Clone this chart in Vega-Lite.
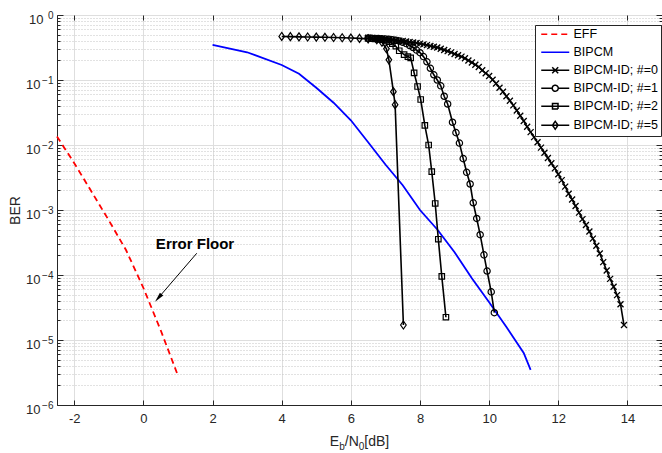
{
  "$schema": "https://vega.github.io/schema/vega-lite/v6.json",
  "width": 605,
  "height": 390,
  "autosize": "none",
  "padding": {"left": 57, "top": 15, "right": 0, "bottom": 48},
  "background": "white",
  "config": {
    "font": "Liberation Sans",
    "view": {"stroke": "#262626", "strokeWidth": 1},
    "axis": {
      "labelFont": "Liberation Sans",
      "labelFontSize": 13,
      "labelColor": "#262626",
      "titleFont": "Liberation Sans",
      "titleFontSize": 14,
      "titleFontWeight": "normal",
      "titleColor": "#262626",
      "domainColor": "#262626",
      "tickColor": "#262626",
      "gridColor": "#dedede"
    }
  },
  "datasets": {
    "curves": [
      {"series": "EFF", "x": -2.5, "ber": 0.0135},
      {"series": "EFF", "x": -2, "ber": 0.00525},
      {"series": "EFF", "x": -1.5, "ber": 0.00191},
      {"series": "EFF", "x": -1, "ber": 0.000692},
      {"series": "EFF", "x": -0.5, "ber": 0.00024},
      {"series": "EFF", "x": 0, "ber": 6.31e-5},
      {"series": "EFF", "x": 0.5, "ber": 1.41e-5},
      {"series": "EFF", "x": 1, "ber": 2.82e-6},
      {"series": "BIPCM", "x": 2, "ber": 0.347},
      {"series": "BIPCM", "x": 3, "ber": 0.267},
      {"series": "BIPCM", "x": 4, "ber": 0.17},
      {"series": "BIPCM", "x": 4.5, "ber": 0.1245},
      {"series": "BIPCM", "x": 5, "ber": 0.0759},
      {"series": "BIPCM", "x": 5.5, "ber": 0.0447},
      {"series": "BIPCM", "x": 6, "ber": 0.024},
      {"series": "BIPCM", "x": 6.5, "ber": 0.011},
      {"series": "BIPCM", "x": 7, "ber": 0.00501},
      {"series": "BIPCM", "x": 7.5, "ber": 0.0024},
      {"series": "BIPCM", "x": 8, "ber": 0.001},
      {"series": "BIPCM", "x": 8.5, "ber": 0.000501},
      {"series": "BIPCM", "x": 9, "ber": 0.000224},
      {"series": "BIPCM", "x": 9.5, "ber": 8.91e-5},
      {"series": "BIPCM", "x": 10, "ber": 3.8e-5},
      {"series": "BIPCM", "x": 10.5, "ber": 1.58e-5},
      {"series": "BIPCM", "x": 11, "ber": 6.31e-6},
      {"series": "BIPCM", "x": 11.2, "ber": 3.47e-6},
      {"series": "BIPCM-ID; #=0", "x": 6.5, "ber": 0.447},
      {"series": "BIPCM-ID; #=0", "x": 6.6, "ber": 0.443},
      {"series": "BIPCM-ID; #=0", "x": 6.7, "ber": 0.439},
      {"series": "BIPCM-ID; #=0", "x": 6.8, "ber": 0.435},
      {"series": "BIPCM-ID; #=0", "x": 6.9, "ber": 0.431},
      {"series": "BIPCM-ID; #=0", "x": 7.0, "ber": 0.427},
      {"series": "BIPCM-ID; #=0", "x": 7.1, "ber": 0.421},
      {"series": "BIPCM-ID; #=0", "x": 7.2, "ber": 0.415},
      {"series": "BIPCM-ID; #=0", "x": 7.3, "ber": 0.409},
      {"series": "BIPCM-ID; #=0", "x": 7.4, "ber": 0.404},
      {"series": "BIPCM-ID; #=0", "x": 7.5, "ber": 0.398},
      {"series": "BIPCM-ID; #=0", "x": 7.6, "ber": 0.391},
      {"series": "BIPCM-ID; #=0", "x": 7.7, "ber": 0.384},
      {"series": "BIPCM-ID; #=0", "x": 7.8, "ber": 0.377},
      {"series": "BIPCM-ID; #=0", "x": 7.9, "ber": 0.37},
      {"series": "BIPCM-ID; #=0", "x": 8.0, "ber": 0.363},
      {"series": "BIPCM-ID; #=0", "x": 8.1, "ber": 0.353},
      {"series": "BIPCM-ID; #=0", "x": 8.2, "ber": 0.344},
      {"series": "BIPCM-ID; #=0", "x": 8.3, "ber": 0.334},
      {"series": "BIPCM-ID; #=0", "x": 8.4, "ber": 0.325},
      {"series": "BIPCM-ID; #=0", "x": 8.5, "ber": 0.316},
      {"series": "BIPCM-ID; #=0", "x": 8.6, "ber": 0.303},
      {"series": "BIPCM-ID; #=0", "x": 8.7, "ber": 0.29},
      {"series": "BIPCM-ID; #=0", "x": 8.8, "ber": 0.278},
      {"series": "BIPCM-ID; #=0", "x": 8.9, "ber": 0.266},
      {"series": "BIPCM-ID; #=0", "x": 9.0, "ber": 0.251},
      {"series": "BIPCM-ID; #=0", "x": 9.1, "ber": 0.24},
      {"series": "BIPCM-ID; #=0", "x": 9.2, "ber": 0.229},
      {"series": "BIPCM-ID; #=0", "x": 9.3, "ber": 0.216},
      {"series": "BIPCM-ID; #=0", "x": 9.4, "ber": 0.1995},
      {"series": "BIPCM-ID; #=0", "x": 9.5, "ber": 0.186},
      {"series": "BIPCM-ID; #=0", "x": 9.6, "ber": 0.172},
      {"series": "BIPCM-ID; #=0", "x": 9.7, "ber": 0.1585},
      {"series": "BIPCM-ID; #=0", "x": 9.8, "ber": 0.141},
      {"series": "BIPCM-ID; #=0", "x": 9.9, "ber": 0.127},
      {"series": "BIPCM-ID; #=0", "x": 10.0, "ber": 0.115},
      {"series": "BIPCM-ID; #=0", "x": 10.1, "ber": 0.101},
      {"series": "BIPCM-ID; #=0", "x": 10.2, "ber": 0.0881},
      {"series": "BIPCM-ID; #=0", "x": 10.3, "ber": 0.0759},
      {"series": "BIPCM-ID; #=0", "x": 10.4, "ber": 0.0661},
      {"series": "BIPCM-ID; #=0", "x": 10.5, "ber": 0.0562},
      {"series": "BIPCM-ID; #=0", "x": 10.6, "ber": 0.0479},
      {"series": "BIPCM-ID; #=0", "x": 10.7, "ber": 0.0407},
      {"series": "BIPCM-ID; #=0", "x": 10.8, "ber": 0.0339},
      {"series": "BIPCM-ID; #=0", "x": 10.9, "ber": 0.0282},
      {"series": "BIPCM-ID; #=0", "x": 11.0, "ber": 0.0234},
      {"series": "BIPCM-ID; #=0", "x": 11.1, "ber": 0.0191},
      {"series": "BIPCM-ID; #=0", "x": 11.2, "ber": 0.0158},
      {"series": "BIPCM-ID; #=0", "x": 11.3, "ber": 0.0132},
      {"series": "BIPCM-ID; #=0", "x": 11.4, "ber": 0.011},
      {"series": "BIPCM-ID; #=0", "x": 11.5, "ber": 0.00912},
      {"series": "BIPCM-ID; #=0", "x": 11.6, "ber": 0.00759},
      {"series": "BIPCM-ID; #=0", "x": 11.7, "ber": 0.00631},
      {"series": "BIPCM-ID; #=0", "x": 11.8, "ber": 0.00525},
      {"series": "BIPCM-ID; #=0", "x": 11.9, "ber": 0.00437},
      {"series": "BIPCM-ID; #=0", "x": 12.0, "ber": 0.00355},
      {"series": "BIPCM-ID; #=0", "x": 12.1, "ber": 0.00288},
      {"series": "BIPCM-ID; #=0", "x": 12.2, "ber": 0.00229},
      {"series": "BIPCM-ID; #=0", "x": 12.3, "ber": 0.00178},
      {"series": "BIPCM-ID; #=0", "x": 12.4, "ber": 0.00145},
      {"series": "BIPCM-ID; #=0", "x": 12.5, "ber": 0.00115},
      {"series": "BIPCM-ID; #=0", "x": 12.6, "ber": 0.000912},
      {"series": "BIPCM-ID; #=0", "x": 12.7, "ber": 0.000724},
      {"series": "BIPCM-ID; #=0", "x": 12.8, "ber": 0.000589},
      {"series": "BIPCM-ID; #=0", "x": 12.9, "ber": 0.000468},
      {"series": "BIPCM-ID; #=0", "x": 13.0, "ber": 0.000363},
      {"series": "BIPCM-ID; #=0", "x": 13.1, "ber": 0.000282},
      {"series": "BIPCM-ID; #=0", "x": 13.2, "ber": 0.000214},
      {"series": "BIPCM-ID; #=0", "x": 13.3, "ber": 0.000158},
      {"series": "BIPCM-ID; #=0", "x": 13.4, "ber": 0.0001175},
      {"series": "BIPCM-ID; #=0", "x": 13.5, "ber": 8.71e-5},
      {"series": "BIPCM-ID; #=0", "x": 13.6, "ber": 6.61e-5},
      {"series": "BIPCM-ID; #=0", "x": 13.7, "ber": 4.9e-5},
      {"series": "BIPCM-ID; #=0", "x": 13.8, "ber": 3.55e-5},
      {"series": "BIPCM-ID; #=0", "x": 13.9, "ber": 1.7e-5},
      {"series": "BIPCM-ID; #=1", "x": 6.5, "ber": 0.4416},
      {"series": "BIPCM-ID; #=1", "x": 6.6, "ber": 0.4395},
      {"series": "BIPCM-ID; #=1", "x": 6.7, "ber": 0.4365},
      {"series": "BIPCM-ID; #=1", "x": 6.8, "ber": 0.4335},
      {"series": "BIPCM-ID; #=1", "x": 6.9, "ber": 0.4305},
      {"series": "BIPCM-ID; #=1", "x": 7.0, "ber": 0.4266},
      {"series": "BIPCM-ID; #=1", "x": 7.1, "ber": 0.4217},
      {"series": "BIPCM-ID; #=1", "x": 7.2, "ber": 0.415},
      {"series": "BIPCM-ID; #=1", "x": 7.3, "ber": 0.4074},
      {"series": "BIPCM-ID; #=1", "x": 7.4, "ber": 0.3981},
      {"series": "BIPCM-ID; #=1", "x": 7.5, "ber": 0.3802},
      {"series": "BIPCM-ID; #=1", "x": 7.6, "ber": 0.3631},
      {"series": "BIPCM-ID; #=1", "x": 7.7, "ber": 0.3388},
      {"series": "BIPCM-ID; #=1", "x": 7.8, "ber": 0.3162},
      {"series": "BIPCM-ID; #=1", "x": 7.9, "ber": 0.2884},
      {"series": "BIPCM-ID; #=1", "x": 8.0, "ber": 0.263},
      {"series": "BIPCM-ID; #=1", "x": 8.1, "ber": 0.2291},
      {"series": "BIPCM-ID; #=1", "x": 8.2, "ber": 0.1905},
      {"series": "BIPCM-ID; #=1", "x": 8.3, "ber": 0.1514},
      {"series": "BIPCM-ID; #=1", "x": 8.4, "ber": 0.1202},
      {"series": "BIPCM-ID; #=1", "x": 8.5, "ber": 0.1},
      {"series": "BIPCM-ID; #=1", "x": 8.6, "ber": 0.0813},
      {"series": "BIPCM-ID; #=1", "x": 8.7, "ber": 0.0562},
      {"series": "BIPCM-ID; #=1", "x": 8.8, "ber": 0.0427},
      {"series": "BIPCM-ID; #=1", "x": 8.94, "ber": 0.0224},
      {"series": "BIPCM-ID; #=1", "x": 9.04, "ber": 0.0155},
      {"series": "BIPCM-ID; #=1", "x": 9.14, "ber": 0.0107},
      {"series": "BIPCM-ID; #=1", "x": 9.25, "ber": 0.00617},
      {"series": "BIPCM-ID; #=1", "x": 9.35, "ber": 0.0038},
      {"series": "BIPCM-ID; #=1", "x": 9.45, "ber": 0.00251},
      {"series": "BIPCM-ID; #=1", "x": 9.54, "ber": 0.00129},
      {"series": "BIPCM-ID; #=1", "x": 9.64, "ber": 0.000741},
      {"series": "BIPCM-ID; #=1", "x": 9.74, "ber": 0.000417},
      {"series": "BIPCM-ID; #=1", "x": 9.85, "ber": 0.000204},
      {"series": "BIPCM-ID; #=1", "x": 9.94, "ber": 0.000115},
      {"series": "BIPCM-ID; #=1", "x": 10.06, "ber": 5.5e-5},
      {"series": "BIPCM-ID; #=1", "x": 10.15, "ber": 2.63e-5},
      {"series": "BIPCM-ID; #=2", "x": 6.5, "ber": 0.4365},
      {"series": "BIPCM-ID; #=2", "x": 6.6, "ber": 0.4345},
      {"series": "BIPCM-ID; #=2", "x": 6.7, "ber": 0.4305},
      {"series": "BIPCM-ID; #=2", "x": 6.8, "ber": 0.4246},
      {"series": "BIPCM-ID; #=2", "x": 6.9, "ber": 0.4169},
      {"series": "BIPCM-ID; #=2", "x": 7.0, "ber": 0.4074},
      {"series": "BIPCM-ID; #=2", "x": 7.1, "ber": 0.389},
      {"series": "BIPCM-ID; #=2", "x": 7.2, "ber": 0.3631},
      {"series": "BIPCM-ID; #=2", "x": 7.3, "ber": 0.3311},
      {"series": "BIPCM-ID; #=2", "x": 7.4, "ber": 0.2818},
      {"series": "BIPCM-ID; #=2", "x": 7.54, "ber": 0.2455},
      {"series": "BIPCM-ID; #=2", "x": 7.65, "ber": 0.2291},
      {"series": "BIPCM-ID; #=2", "x": 7.73, "ber": 0.2188},
      {"series": "BIPCM-ID; #=2", "x": 7.83, "ber": 0.1288},
      {"series": "BIPCM-ID; #=2", "x": 7.93, "ber": 0.0794},
      {"series": "BIPCM-ID; #=2", "x": 8.02, "ber": 0.0501},
      {"series": "BIPCM-ID; #=2", "x": 8.14, "ber": 0.02},
      {"series": "BIPCM-ID; #=2", "x": 8.25, "ber": 0.01},
      {"series": "BIPCM-ID; #=2", "x": 8.34, "ber": 0.00389},
      {"series": "BIPCM-ID; #=2", "x": 8.44, "ber": 0.00126},
      {"series": "BIPCM-ID; #=2", "x": 8.53, "ber": 0.000355},
      {"series": "BIPCM-ID; #=2", "x": 8.63, "ber": 9.55e-5},
      {"series": "BIPCM-ID; #=2", "x": 8.75, "ber": 2.24e-5},
      {"series": "BIPCM-ID; #=5", "x": 4.0, "ber": 0.4677},
      {"series": "BIPCM-ID; #=5", "x": 4.25, "ber": 0.4645},
      {"series": "BIPCM-ID; #=5", "x": 4.5, "ber": 0.4613},
      {"series": "BIPCM-ID; #=5", "x": 4.75, "ber": 0.4592},
      {"series": "BIPCM-ID; #=5", "x": 5.0, "ber": 0.4571},
      {"series": "BIPCM-ID; #=5", "x": 5.25, "ber": 0.4539},
      {"series": "BIPCM-ID; #=5", "x": 5.5, "ber": 0.4508},
      {"series": "BIPCM-ID; #=5", "x": 5.75, "ber": 0.4467},
      {"series": "BIPCM-ID; #=5", "x": 6.0, "ber": 0.4416},
      {"series": "BIPCM-ID; #=5", "x": 6.25, "ber": 0.4365},
      {"series": "BIPCM-ID; #=5", "x": 6.5, "ber": 0.4295},
      {"series": "BIPCM-ID; #=5", "x": 6.75, "ber": 0.4169},
      {"series": "BIPCM-ID; #=5", "x": 6.9, "ber": 0.3802},
      {"series": "BIPCM-ID; #=5", "x": 7.03, "ber": 0.302},
      {"series": "BIPCM-ID; #=5", "x": 7.1, "ber": 0.2042},
      {"series": "BIPCM-ID; #=5", "x": 7.23, "ber": 0.0661},
      {"series": "BIPCM-ID; #=5", "x": 7.28, "ber": 0.0417},
      {"series": "BIPCM-ID; #=5", "x": 7.52, "ber": 1.7e-5}
    ],
    "titleMain": [
      {"t": "E", "x": 5.392, "ber": 2.32e-7},
      {"t": "/N", "x": 5.823, "ber": 2.32e-7},
      {"t": "[dB]", "x": 6.39, "ber": 2.32e-7}
    ],
    "titleSub": [
      {"t": "b", "x": 5.661, "ber": 2.05e-7},
      {"t": "0", "x": 6.228, "ber": 2.05e-7}
    ],
    "note": [
      {"t": "Error Floor", "x": 1.493, "ber": 3.0e-4}
    ],
    "arrow": [
      {"x": 1.542, "ber": 2.16e-4, "x2": 0.431, "ber2": 4.44e-5}
    ]
  },
  "data": {"name": "curves"},
  "resolve": {"axis": {"y": "independent", "x": "independent"}},
  "layer": [
    {
      "mark": {"type": "point", "opacity": 0},
      "encoding": {
        "x": {
          "field": "x",
          "type": "quantitative",
          "scale": {"domain": [-2.5, 15], "nice": false, "zero": false},
          "axis": {
            "orient": "top",
            "values": [-2, 0, 2, 4, 6, 8, 10, 12, 14],
            "labels": false,
            "title": null,
            "grid": false,
            "domain": false,
            "tickSize": -5
          }
        },
        "y": {
          "field": "ber",
          "type": "quantitative",
          "scale": {"type": "log", "domain": [1e-6, 1], "nice": false},
          "axis": {
            "orient": "right",
            "title": null,
            "values": [1e-6, 2e-6, 3e-6, 4e-6, 5e-6, 6e-6, 7e-6, 8e-6, 9e-6,
                       1e-5, 2e-5, 3e-5, 4e-5, 5e-5, 6e-5, 7e-5, 8e-5, 9e-5,
                       1e-4, 2e-4, 3e-4, 4e-4, 5e-4, 6e-4, 7e-4, 8e-4, 9e-4,
                       1e-3, 2e-3, 3e-3, 4e-3, 5e-3, 6e-3, 7e-3, 8e-3, 9e-3,
                       1e-2, 2e-2, 3e-2, 4e-2, 5e-2, 6e-2, 7e-2, 8e-2, 9e-2,
                       1e-1, 2e-1, 3e-1, 4e-1, 5e-1, 6e-1, 7e-1, 8e-1, 9e-1, 1],
            "labels": false,
            "grid": false,
            "domain": false,
            "tickSize": {"condition": {"test": "abs(log(datum.value)/LN10 - round(log(datum.value)/LN10)) < 0.001", "value": -6}, "value": -3}
          }
        }
      }
    },
    {
      "mark": {"type": "point", "opacity": 0},
      "encoding": {
        "y": {
          "field": "ber",
          "type": "quantitative",
          "scale": {"type": "log", "domain": [1e-6, 1], "nice": false},
          "axis": {
            "orient": "left",
            "title": null,
            "values": [1e-6, 1e-5, 1e-4, 1e-3, 1e-2, 1e-1, 1],
            "labelExpr": "['0','−1','−2','−3','−4','−5','−6'][-round(log(datum.value)/LN10)]",
            "labelFontSize": 10,
            "labelAlign": "right",
            "labelBaseline": "middle",
            "labelPadding": 4,
            "labelOffset": 0,
            "labelOverlap": false,
            "labelBound": false,
            "ticks": false,
            "domain": false,
            "grid": false
          }
        }
      }
    },
    {
      "mark": {"type": "point", "opacity": 0},
      "encoding": {
        "y": {
          "field": "ber",
          "type": "quantitative",
          "scale": {"type": "log", "domain": [1e-6, 1], "nice": false},
          "axis": {
            "orient": "left",
            "title": "BER",
            "titlePadding": 3,
            "values": [1e-6, 1e-5, 1e-4, 1e-3, 1e-2, 1e-1, 1],
            "labelExpr": "'10'",
            "labelFontSize": 13,
            "labelAlign": "right",
            "labelBaseline": "middle",
            "labelPadding": {"condition": {"test": "datum.value == 1", "value": 14}, "value": 17},
            "labelOffset": 4,
            "labelOverlap": false,
            "labelBound": false,
            "ticks": false,
            "domain": false,
            "grid": false
          }
        }
      }
    },
    {
      "encoding": {
        "x": {
          "field": "x",
          "type": "quantitative",
          "scale": {"domain": [-2.5, 15], "nice": false, "zero": false},
          "axis": {
            "orient": "bottom",
            "values": [-2, 0, 2, 4, 6, 8, 10, 12, 14],
            "labelExpr": "replace(datum.label, '−', '-')",
            "title": null,
            "grid": true,
            "tickSize": -5,
            "labelPadding": 12,
            "labelFlush": false
          }
        },
        "y": {
          "field": "ber",
          "type": "quantitative",
          "scale": {"type": "log", "domain": [1e-6, 1], "nice": false},
          "axis": {
            "orient": "left",
            "title": null,
            "values": [1e-6, 2e-6, 3e-6, 4e-6, 5e-6, 6e-6, 7e-6, 8e-6, 9e-6,
                       1e-5, 2e-5, 3e-5, 4e-5, 5e-5, 6e-5, 7e-5, 8e-5, 9e-5,
                       1e-4, 2e-4, 3e-4, 4e-4, 5e-4, 6e-4, 7e-4, 8e-4, 9e-4,
                       1e-3, 2e-3, 3e-3, 4e-3, 5e-3, 6e-3, 7e-3, 8e-3, 9e-3,
                       1e-2, 2e-2, 3e-2, 4e-2, 5e-2, 6e-2, 7e-2, 8e-2, 9e-2,
                       1e-1, 2e-1, 3e-1, 4e-1, 5e-1, 6e-1, 7e-1, 8e-1, 9e-1, 1],
            "labels": false,
            "grid": true,
            "gridColor": {"condition": {"test": "abs(log(datum.value)/LN10 - round(log(datum.value)/LN10)) < 0.001", "value": "#dedede"}, "value": "#c4c4c4"},
            "gridDash": {"condition": {"test": "abs(log(datum.value)/LN10 - round(log(datum.value)/LN10)) < 0.001", "value": []}, "value": [1, 2]},
            "tickSize": {"condition": {"test": "abs(log(datum.value)/LN10 - round(log(datum.value)/LN10)) < 0.001", "value": -6}, "value": -3}
          }
        }
      },
      "layer": [
        {
          "transform": [{"filter": "datum.series == 'EFF'"}],
          "mark": {"type": "line", "strokeWidth": 1.8, "color": "#ff0000", "strokeDash": [6, 4]}
        },
        {
          "transform": [{"filter": "datum.series == 'BIPCM'"}],
          "mark": {"type": "line", "strokeWidth": 1.8, "color": "#0000ff"}
        },
        {
          "transform": [{"filter": "indexof(datum.series, 'ID') >= 0"}],
          "mark": {"type": "line", "strokeWidth": 1.6, "color": "#000000"},
          "encoding": {"detail": {"field": "series"}}
        },
        {
          "transform": [{"filter": "datum.series == 'BIPCM-ID; #=0'"}],
          "mark": {"type": "point", "shape": "M-1,-1L1,1M-1,1L1,-1", "size": 36, "filled": false, "stroke": "#000000", "strokeWidth": 1.3, "opacity": 1}
        },
        {
          "transform": [{"filter": "datum.series == 'BIPCM-ID; #=1'"}],
          "mark": {"type": "point", "shape": "circle", "size": 40, "filled": false, "stroke": "#000000", "strokeWidth": 1.2, "opacity": 1}
        },
        {
          "transform": [{"filter": "datum.series == 'BIPCM-ID; #=2'"}],
          "mark": {"type": "point", "shape": "square", "size": 30, "filled": false, "stroke": "#000000", "strokeWidth": 1.2, "opacity": 1}
        },
        {
          "transform": [{"filter": "datum.series == 'BIPCM-ID; #=5'"}],
          "mark": {"type": "point", "shape": "M0,-1L0.7,0L0,1L-0.7,0Z", "size": 64, "filled": false, "stroke": "#000000", "strokeWidth": 1.2, "opacity": 1}
        },
        {
          "mark": {"type": "point", "opacity": 0, "filled": false, "strokeWidth": 1.5},
          "encoding": {
            "color": {
              "field": "series", "type": "nominal",
              "scale": {"domain": ["EFF", "BIPCM", "BIPCM-ID; #=0", "BIPCM-ID; #=1", "BIPCM-ID; #=2", "BIPCM-ID; #=5"],
                        "range": ["#ff0000", "#0000ff", "#000000", "#000000", "#000000", "#000000"]},
              "legend": {
                "title": null,
                "orient": "none",
                "legendX": 478,
                "legendY": 10,
                "fillColor": "white",
                "strokeColor": "#262626",
                "padding": 3,
                "labelFont": "Liberation Sans",
                "labelFontSize": 12.5,
                "labelColor": "#000000",
                "labelOffset": 23,
                "symbolSize": 100,
                "symbolStrokeWidth": 1.5,
                "symbolFillColor": "transparent",
                "rowPadding": 5.0
              }
            },
            "shape": {
              "field": "series", "type": "nominal",
              "scale": {"domain": ["EFF", "BIPCM", "BIPCM-ID; #=0", "BIPCM-ID; #=1", "BIPCM-ID; #=2", "BIPCM-ID; #=5"],
                        "range": ["M-0.6,0H5", "M-0.6,0H5",
                                  "M-0.6,0H5M1.6,-0.6L2.8,0.6M1.6,0.6L2.8,-0.6",
                                  "M-0.6,0H1.6A0.6,0.6,0,1,1,2.8,0A0.6,0.6,0,1,1,1.6,0M2.8,0H5",
                                  "M-0.6,0H5M1.65,-0.55H2.75V0.55H1.65Z",
                                  "M-0.6,0H5M2.2,-0.8L2.75,0L2.2,0.8L1.65,0Z"]}
            },
            "strokeDash": {
              "field": "series", "type": "nominal",
              "scale": {"domain": ["EFF", "BIPCM", "BIPCM-ID; #=0", "BIPCM-ID; #=1", "BIPCM-ID; #=2", "BIPCM-ID; #=5"],
                        "range": [[6, 4], [1, 0], [1, 0], [1, 0], [1, 0], [1, 0]]}
            }
          }
        },
        {
          "data": {"name": "arrow"},
          "mark": {"type": "rule", "color": "#000000", "strokeWidth": 1},
          "encoding": {
            "x2": {"field": "x2"},
            "y2": {"field": "ber2"}
          }
        },
        {
          "data": {"name": "arrow"},
          "mark": {"type": "point", "shape": "M0,-1L0.45,1L-0.45,1Z", "size": 100, "filled": true, "color": "#000000", "angle": 221, "opacity": 1},
          "encoding": {
            "x": {"field": "x2", "type": "quantitative"},
            "y": {"field": "ber2", "type": "quantitative"}
          }
        },
        {
          "data": {"name": "note"},
          "mark": {"type": "text", "font": "Liberation Sans", "fontSize": 15, "fontWeight": "bold", "color": "#000000", "align": "center", "baseline": "middle"},
          "encoding": {"text": {"field": "t"}}
        },
        {
          "data": {"name": "titleMain"},
          "mark": {"type": "text", "font": "Liberation Sans", "fontSize": 14, "color": "#262626", "align": "left", "baseline": "alphabetic"},
          "encoding": {"text": {"field": "t"}}
        },
        {
          "data": {"name": "titleSub"},
          "mark": {"type": "text", "font": "Liberation Sans", "fontSize": 10, "color": "#262626", "align": "left", "baseline": "alphabetic"},
          "encoding": {"text": {"field": "t"}}
        }
      ]
    }
  ]
}
